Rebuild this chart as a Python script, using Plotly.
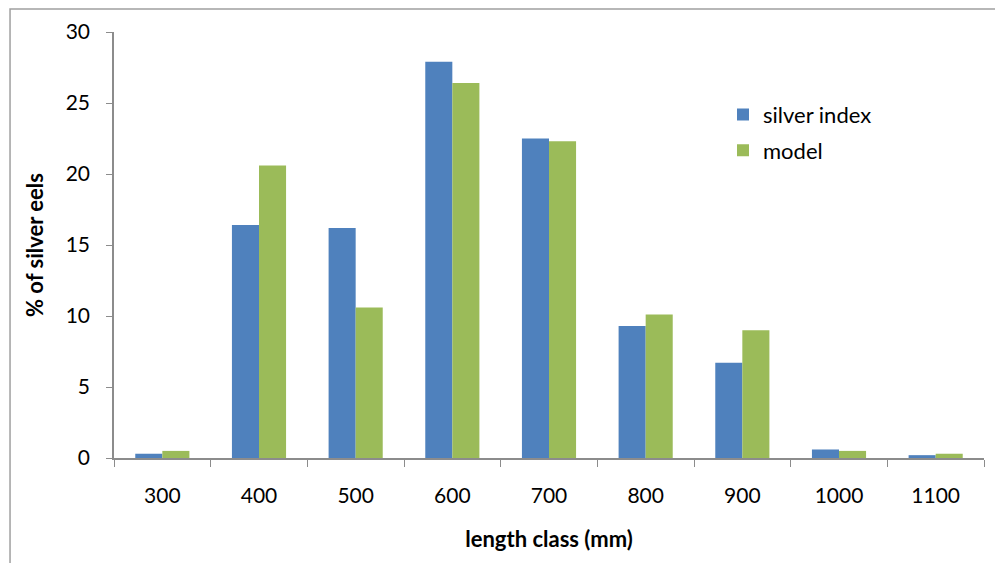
import plotly.graph_objects as go

length_class = ["300", "400", "500", "600", "700", "800", "900", "1000", "1100"]
silver_index = [0.3, 16.4, 16.2, 27.9, 22.5, 9.3, 6.7, 0.6, 0.2]
model = [0.5, 20.6, 10.6, 26.4, 22.3, 10.1, 9.0, 0.5, 0.3]

font_name = "Lato, Open Sans, sans-serif"

fig = go.Figure()
fig.add_trace(go.Bar(x=length_class, y=silver_index, name="silver index",
                     legendgroup="a",
                     marker_color="#4f81bd", marker_line_width=0))
fig.add_trace(go.Bar(x=length_class, y=model, name="model",
                     legendgroup="b",
                     marker_color="#9bbb59", marker_line_width=0))

# page is offset by ~7px in the browser, margins compensate
fig.update_layout(
    width=1003, height=563,
    margin=dict(l=106, r=27, t=24, b=113),
    paper_bgcolor="white", plot_bgcolor="white",
    barmode="group", bargap=0.44, bargroupgap=0,
    font=dict(family=font_name, size=21, color="black"),
    legend=dict(x=0.70, y=0.855, xanchor="left", yanchor="top",
                font=dict(size=22), itemwidth=30, tracegroupgap=4,
                traceorder="grouped",
                bgcolor="rgba(0,0,0,0)"),
    showlegend=True,
)
fig.update_xaxes(
    showline=True, linecolor="#8c8c8c", linewidth=1.5,
    ticks="outside", tickson="boundaries", ticklen=7, tickcolor="#8c8c8c",
    showgrid=False, automargin=False, ticklabelstandoff=18,
    title=dict(text="<b>length class (mm)</b>", font=dict(size=22), standoff=26),
)
fig.update_yaxes(
    range=[0, 30], dtick=5,
    showline=True, linecolor="#8c8c8c", linewidth=1.5,
    ticks="outside", ticklen=6, tickcolor="#8c8c8c",
    showgrid=False, zeroline=False, automargin=False, ticklabelstandoff=12,
    title=dict(text="<b>% of silver eels</b>", font=dict(size=22), standoff=16),
)

# outer chart frame
fig.add_shape(type="rect", xref="paper", yref="paper",
              x0=-0.1195, x1=1.2, y0=-0.5, y1=1.054,
              line=dict(color="#a0a0a0", width=1.5), layer="below")

fig.write_html("out.html")
